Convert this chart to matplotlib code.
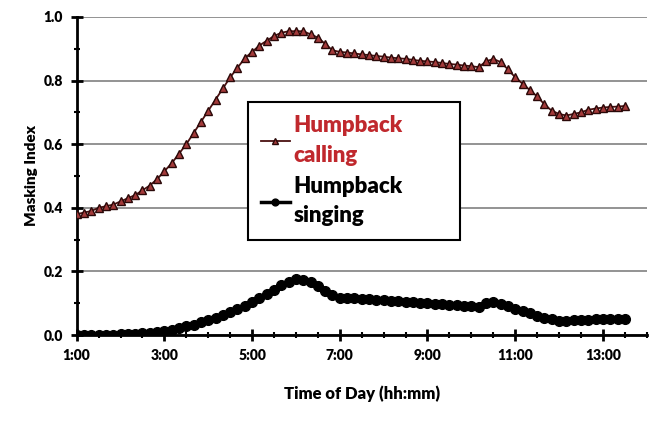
import matplotlib
matplotlib.use("Agg")
from matplotlib import pyplot as plt
from matplotlib.ticker import FixedLocator, MultipleLocator
import numpy as np

plt.rcParams['font.family'] = ['Lato', 'DejaVu Sans']

# time of day in minutes, one sample every 10 min from 1:00 to 13:30
minutes = np.arange(60, 811, 10)

calling = [0.38, 0.385, 0.39, 0.40, 0.405, 0.41,
           0.42, 0.43, 0.44, 0.455, 0.47, 0.49,
           0.515, 0.54, 0.57, 0.60, 0.635, 0.67,
           0.705, 0.74, 0.775, 0.81, 0.84, 0.87,
           0.89, 0.91, 0.925, 0.94, 0.95, 0.955,
           0.955, 0.955, 0.945, 0.935, 0.915, 0.895,
           0.89, 0.888, 0.885, 0.882, 0.88, 0.877,
           0.875, 0.872, 0.87, 0.868, 0.865, 0.862,
           0.86, 0.858, 0.855, 0.852, 0.85, 0.847,
           0.845, 0.842, 0.86, 0.868, 0.858, 0.835,
           0.81, 0.79, 0.77, 0.75, 0.725, 0.705,
           0.695, 0.69, 0.695, 0.70, 0.708, 0.712,
           0.715, 0.717, 0.718, 0.72]

singing = [0.0, 0.0, 0.0, 0.0, 0.0, 0.001,
           0.002, 0.003, 0.004, 0.005, 0.007, 0.009,
           0.012, 0.016, 0.021, 0.027, 0.033, 0.04,
           0.047, 0.055, 0.063, 0.072, 0.082, 0.092,
           0.103, 0.115, 0.128, 0.142, 0.156, 0.168,
           0.175, 0.174, 0.168, 0.155, 0.14, 0.127,
           0.118, 0.116, 0.115, 0.113, 0.112, 0.11,
           0.109, 0.107, 0.106, 0.105, 0.103, 0.102,
           0.1, 0.099, 0.097, 0.096, 0.094, 0.092,
           0.09, 0.089, 0.1, 0.105, 0.098, 0.09,
           0.083, 0.075, 0.068, 0.06, 0.054, 0.049,
           0.045, 0.045, 0.046, 0.047, 0.048, 0.049,
           0.05, 0.051, 0.052, 0.052]

xtick_minutes = [60, 180, 300, 420, 540, 660, 780]
xtick_labels = ["1:00", "3:00", "5:00", "7:00", "9:00", "11:00", "13:00"]
yticks = [0.0, 0.2, 0.4, 0.6, 0.8, 1.0]

fig = plt.figure(figsize=(6.5, 4.22), dpi=100)
ax = fig.add_axes([0.118, 0.206, 0.877, 0.754])

ax.plot(minutes, calling, color='#4a1010', lw=1.3, marker='^', ms=5.5,
        mfc='#a33a3a', mec='#2a0808', mew=1.0, label="Humpback\ncalling", zorder=3)
ax.plot(minutes, singing, color='black', lw=2.5, marker='o', ms=7,
        mfc='black', mec='black', label="Humpback\nsinging", zorder=3)

ax.set_xlim(60, 840)
ax.set_ylim(0, 1.0)
ax.xaxis.set_major_locator(FixedLocator(xtick_minutes))
ax.set_xticklabels(xtick_labels)
ax.xaxis.set_minor_locator(MultipleLocator(30))
ax.set_yticks(yticks)
ax.set_yticklabels(["%.1f" % v for v in yticks])
ax.yaxis.set_minor_locator(MultipleLocator(0.1))

ax.grid(axis='y', which='major', color='#8a8a8a', lw=1.3)
ax.set_axisbelow(True)
for s in ['top', 'right']:
    ax.spines[s].set_visible(False)
for s in ['left', 'bottom']:
    ax.spines[s].set_linewidth(2)
    ax.spines[s].set_color('black')

ax.tick_params(which='major', direction='inout', length=8, width=2, labelsize=10, pad=6)
ax.tick_params(which='minor', direction='inout', length=5, width=1.5)
for lab in ax.get_xticklabels() + ax.get_yticklabels():
    lab.set_fontweight('heavy')

ax.set_ylabel("Masking Index", fontsize=11, fontweight='heavy', labelpad=4)
ax.set_xlabel("Time of Day (hh:mm)", fontsize=12, fontweight='heavy', labelpad=17)

leg = ax.legend(loc='upper left', bbox_to_anchor=(0.30, 0.299, 0.372, 0.434),
                mode='expand', borderaxespad=0, fancybox=False, framealpha=1,
                handlelength=1.3, handletextpad=0.15, borderpad=0.6,
                labelspacing=0.45, markerscale=0.7,
                prop={'weight': 'heavy', 'size': 16})
leg.get_frame().set_edgecolor('black')
leg.get_frame().set_linewidth(1.5)
for t in leg.get_texts():
    t.set_linespacing(1.5)
leg.get_texts()[0].set_color('#c0282d')
leg.get_texts()[1].set_color('black')

plt.savefig("out.png", dpi=100)
